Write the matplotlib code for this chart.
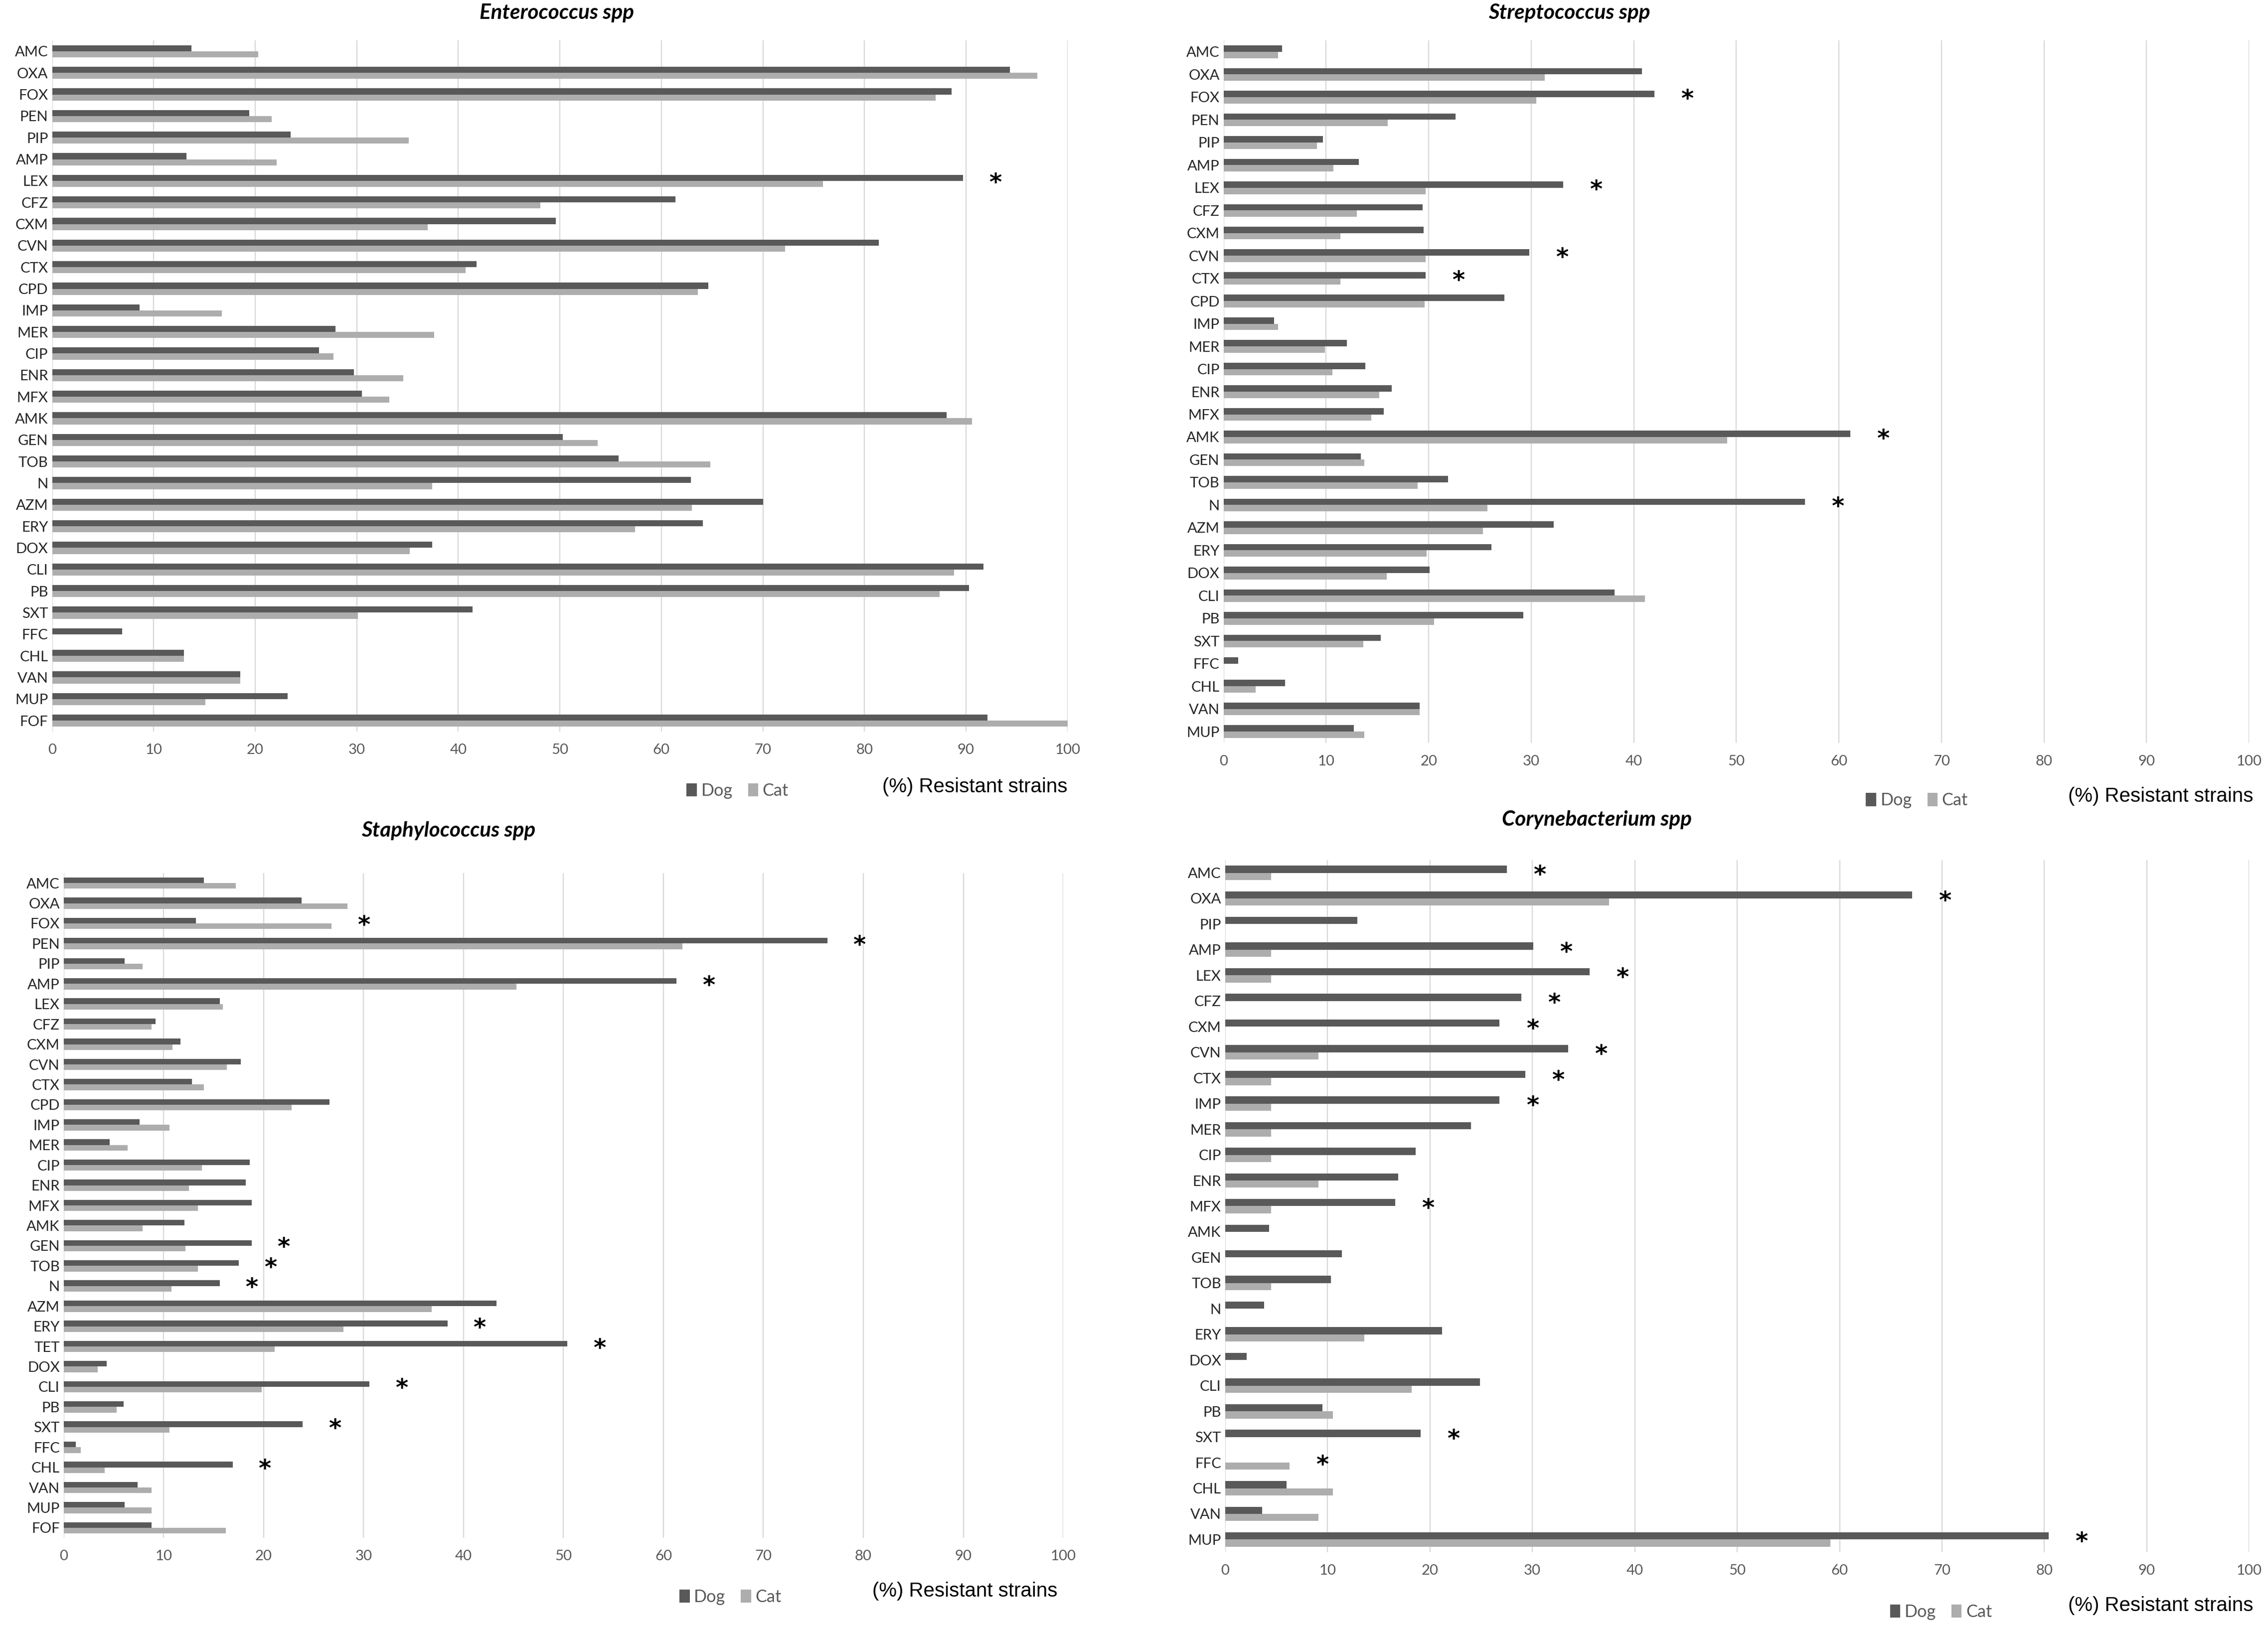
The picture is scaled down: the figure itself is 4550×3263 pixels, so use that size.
import numpy as np
import matplotlib
matplotlib.use("Agg")
import matplotlib.pyplot as plt

# ---- data: % resistant strains, Dog vs Cat ----
entero_drugs = ["AMC", "OXA", "FOX", "PEN", "PIP", "AMP", "LEX", "CFZ", "CXM", "CVN",
                "CTX", "CPD", "IMP", "MER", "CIP", "ENR", "MFX", "AMK", "GEN", "TOB",
                "N", "AZM", "ERY", "DOX", "CLI", "PB", "SXT", "FFC", "CHL", "VAN",
                "MUP", "FOF"]
entero_dog = [13.7, 94.3, 88.6, 19.4, 23.5, 13.2, 89.7, 61.4, 49.6, 81.4,
              41.8, 64.6, 8.6, 27.9, 26.3, 29.7, 30.5, 88.1, 50.3, 55.8,
              62.9, 70.0, 64.1, 37.4, 91.7, 90.3, 41.4, 6.9, 13.0, 18.5,
              23.2, 92.1]
entero_cat = [20.3, 97.0, 87.0, 21.6, 35.1, 22.1, 75.9, 48.1, 37.0, 72.2,
              40.7, 63.6, 16.7, 37.6, 27.7, 34.6, 33.2, 90.6, 53.7, 64.8,
              37.4, 63.0, 57.4, 35.2, 88.8, 87.4, 30.1, 0.0, 13.0, 18.5,
              15.1, 100.0]
entero_stars = ["LEX"]

strep_drugs = ["AMC", "OXA", "FOX", "PEN", "PIP", "AMP", "LEX", "CFZ", "CXM", "CVN",
               "CTX", "CPD", "IMP", "MER", "CIP", "ENR", "MFX", "AMK", "GEN", "TOB",
               "N", "AZM", "ERY", "DOX", "CLI", "PB", "SXT", "FFC", "CHL", "VAN",
               "MUP"]
strep_dog = [5.7, 40.8, 42.0, 22.6, 9.7, 13.2, 33.1, 19.4, 19.5, 29.8,
             19.7, 27.4, 4.9, 12.0, 13.8, 16.4, 15.6, 61.1, 13.4, 21.9,
             56.7, 32.2, 26.1, 20.1, 38.1, 29.2, 15.3, 1.4, 6.0, 19.1,
             12.7]
strep_cat = [5.3, 31.3, 30.5, 16.0, 9.1, 10.7, 19.7, 13.0, 11.4, 19.7,
             11.4, 19.6, 5.3, 9.9, 10.6, 15.2, 14.4, 49.1, 13.7, 18.9,
             25.7, 25.3, 19.8, 15.9, 41.1, 20.5, 13.6, 0.0, 3.1, 19.1,
             13.7]
strep_stars = ["FOX", "LEX", "CVN", "CTX", "AMK", "N"]

staph_drugs = ["AMC", "OXA", "FOX", "PEN", "PIP", "AMP", "LEX", "CFZ", "CXM", "CVN",
               "CTX", "CPD", "IMP", "MER", "CIP", "ENR", "MFX", "AMK", "GEN", "TOB",
               "N", "AZM", "ERY", "TET", "DOX", "CLI", "PB", "SXT", "FFC", "CHL",
               "VAN", "MUP", "FOF"]
staph_dog = [14.0, 23.8, 13.2, 76.4, 6.1, 61.3, 15.6, 9.2, 11.7, 17.7,
             12.8, 26.6, 7.6, 4.6, 18.6, 18.2, 18.8, 12.1, 18.8, 17.5,
             15.6, 43.3, 38.4, 50.4, 4.3, 30.6, 6.0, 23.9, 1.2, 16.9,
             7.4, 6.1, 8.8]
staph_cat = [17.2, 28.4, 26.8, 61.9, 7.9, 45.3, 15.9, 8.8, 10.9, 16.3,
             14.0, 22.8, 10.6, 6.4, 13.8, 12.5, 13.4, 7.9, 12.2, 13.4,
             10.8, 36.8, 28.0, 21.1, 3.4, 19.8, 5.3, 10.6, 1.7, 4.1,
             8.8, 8.8, 16.2]
staph_stars = ["FOX", "PEN", "AMP", "GEN", "TOB", "N", "ERY", "TET", "CLI", "SXT", "CHL"]

coryne_drugs = ["AMC", "OXA", "PIP", "AMP", "LEX", "CFZ", "CXM", "CVN", "CTX", "IMP",
                "MER", "CIP", "ENR", "MFX", "AMK", "GEN", "TOB", "N", "ERY", "DOX",
                "CLI", "PB", "SXT", "FFC", "CHL", "VAN", "MUP"]
coryne_dog = [27.5, 67.1, 12.9, 30.1, 35.6, 28.9, 26.8, 33.5, 29.3, 26.8,
              24.0, 18.6, 16.9, 16.6, 4.3, 11.4, 10.3, 3.8, 21.2, 2.1,
              24.9, 9.5, 19.1, 0.0, 6.0, 3.6, 80.4]
coryne_cat = [4.5, 37.5, 0.0, 4.5, 4.5, 0.0, 0.0, 9.1, 4.5, 4.5,
              4.5, 4.5, 9.1, 4.5, 0.0, 0.0, 4.5, 0.0, 13.6, 0.0,
              18.2, 10.5, 0.0, 6.3, 10.5, 9.1, 59.1]
coryne_stars = ["AMC", "OXA", "AMP", "LEX", "CFZ", "CXM", "CVN", "CTX", "IMP",
                "MFX", "SXT", "FFC", "MUP"]

DOG = "#595959"
CAT = "#adadad"
GRID = "#d9d9d9"
TXT = "#595959"

plt.rcParams["font.family"] = ["Lato", "DejaVu Sans"]

fig = plt.figure(figsize=(4550 / 290, 3263 / 290), dpi=290)

# (title, drugs, dog, cat, stars, axes rect, title pos, legend pos, label pos)
panels = [
    ("Enterococcus spp", entero_drugs, entero_dog, entero_cat, entero_stars,
     [0.0230, 0.5502, 0.4477, 0.4249], (0.2455, 0.992), (0.675, -0.086), (1.0, -0.080)),
    ("Streptococcus spp", strep_drugs, strep_dog, strep_cat, strep_stars,
     [0.5395, 0.5431, 0.4522, 0.4320], (0.692, 0.992), (0.676, -0.082), (1.004, -0.076)),
    ("Staphylococcus spp", staph_drugs, staph_dog, staph_cat, staph_stars,
     [0.0281, 0.0542, 0.4407, 0.4089], (0.1977, 0.489), (0.667, -0.089), (0.994, -0.080)),
    ("Corynebacterium spp", coryne_drugs, coryne_dog, coryne_cat, coryne_stars,
     [0.5402, 0.0453, 0.4515, 0.4258], (0.704, 0.496), (0.699, -0.086), (1.004, -0.077)),
]

bh = 0.28
for title, drugs, dog, cat, stars, rect, tpos, lpos, xpos in panels:
    ax = fig.add_axes(rect)
    y = np.arange(len(drugs))
    b1 = ax.barh(y - bh / 2, dog, height=bh, color=DOG, label="Dog")
    b2 = ax.barh(y + bh / 2, cat, height=bh, color=CAT, label="Cat")
    for d in stars:
        i = drugs.index(d)
        ax.text(max(dog[i], cat[i]) + 3.2, i + 0.1, "*", ha="center", va="center",
                fontsize=12, fontweight="bold", family=["DejaVu Sans"])
    ax.set_xlim(0, 100)
    ax.set_ylim(len(drugs) - 0.5, -0.5)
    ax.set_xticks(np.arange(0, 101, 10))
    ax.set_yticks(y)
    ax.set_yticklabels(drugs)
    ax.xaxis.grid(True, color=GRID, linewidth=0.6)
    ax.set_axisbelow(True)
    for s in ax.spines.values():
        s.set_visible(False)
    ax.tick_params(axis="both", length=0, labelsize=7.3, labelcolor=TXT)
    ax.tick_params(axis="x", pad=6)
    ax.tick_params(axis="y", pad=2, labelcolor="#262626")
    ax.legend(handles=[b1, b2], loc="center", bbox_to_anchor=lpos, ncol=2,
              frameon=False, fontsize=8.5, handlelength=0.6, handleheight=0.8,
              handletextpad=0.25, columnspacing=0.9, labelcolor=TXT)
    ax.text(xpos[0], xpos[1], "(%) Resistant strains", transform=ax.transAxes,
            ha="right", va="center", fontsize=10, color="black",
            family=["Liberation Sans", "DejaVu Sans"])
    fig.text(tpos[0], tpos[1], title, ha="center", va="center", fontsize=10.5,
             fontweight="bold", fontstyle="italic")

fig.savefig("out.png", dpi=290, facecolor="white")
